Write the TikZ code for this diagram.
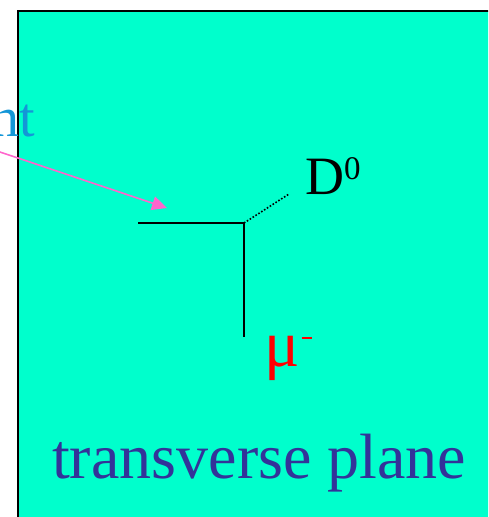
\documentclass[tikz,border=0pt]{standalone}
\usepackage{fontspec}
\setmainfont{Liberation Serif}
\usetikzlibrary{arrows.meta}
\definecolor{bgcyan}{RGB}{0,255,204}
\definecolor{labelblue}{RGB}{20,150,215}
\definecolor{planeblue}{RGB}{51,51,153}
\definecolor{arrowpink}{RGB}{255,102,204}
\tikzset{
  track/.style={line width=1.8pt, black},
  label/.style={anchor=base west, inner sep=0pt},
}
\begin{document}
\begin{tikzpicture}[x=1pt,y=-1pt]
\useasboundingbox (0,0) rectangle (488,517);
\begin{scope}
\clip (0,0) rectangle (488,517);
\draw[line width=2pt, fill=bgcyan] (18,11) rectangle (530,540);
\end{scope}
\coordinate (v) at (244,223);
\coordinate (l) at (138,223);
\coordinate (b) at (244,337);
\coordinate (d) at (289,194);
\coordinate (as) at (-6,150);
\coordinate (at) at (167,208);
\draw[track] (l) -- (v) -- (b);
\draw[track, line width=1.6pt, dash pattern=on 1.6pt off 1.8pt] (v) -- (d);
\draw[arrowpink, line width=1.6pt, -{Triangle[length=15pt,width=14pt]}] (as) -- (at);
\node[anchor=base east, inner sep=0pt, text=labelblue, font=\fontsize{56}{56}\selectfont] (nt) at (35,136) {nt};
\node[label, font=\fontsize{54}{54}\selectfont] (D0) at (305,194) {D\raisebox{15pt}{\fontsize{33}{33}\selectfont 0}};
\node[label, text=red, font=\fontsize{66}{66}\selectfont] (mu) at (264,366) {μ\hspace{2pt}\raisebox{27pt}{\rule{10pt}{2.5pt}}};
\node[label, text=planeblue, font=\fontsize{64}{64}\selectfont] (tp) at (52,478) {transverse plane};
\end{tikzpicture}
\end{document}
